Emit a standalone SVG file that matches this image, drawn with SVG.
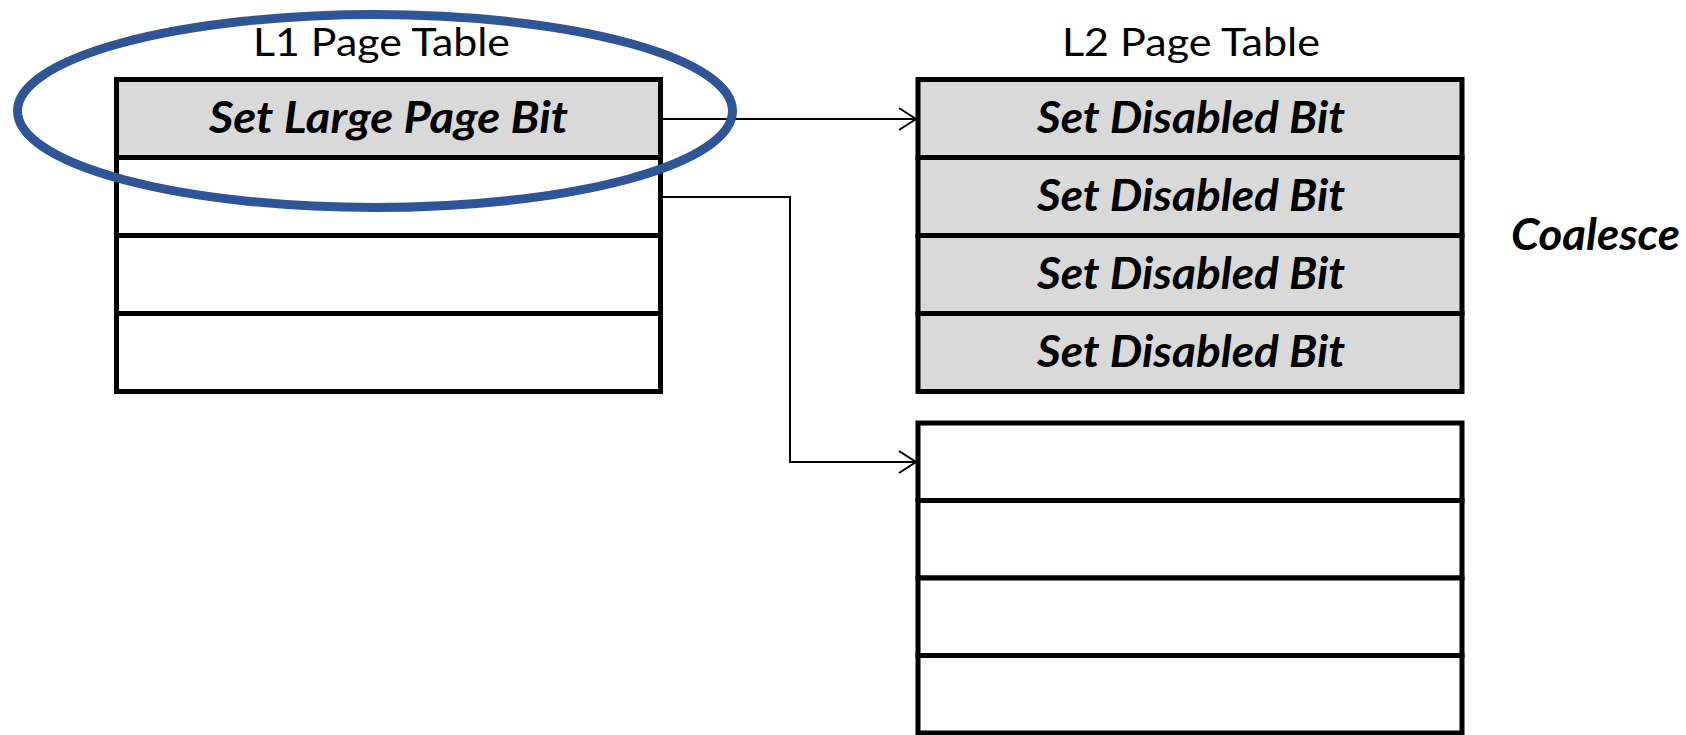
<svg xmlns="http://www.w3.org/2000/svg" width="1686" height="735" viewBox="0 0 1686 735">
  <defs>
    <style>
      .cell { stroke: #000; stroke-width: 5; }
      .gray { fill: #D9D9D9; }
      .white { fill: #FFFFFF; }
      .title { font-family: Lato, "Open Sans", "Liberation Sans", sans-serif; font-size: 38px; fill: #000; }
      .entry { font-family: Lato, "Open Sans", "Liberation Sans", sans-serif; font-size: 44px; font-weight: bold; font-style: italic; fill: #000; }
      .conn { fill: none; stroke: #000; stroke-width: 2; }
    </style>
    <marker id="open-arrow" markerUnits="userSpaceOnUse" markerWidth="24" markerHeight="26" refX="18" refY="12" orient="auto">
      <path d="M1,1 L18,12 L1,23" fill="none" stroke="#000" stroke-width="2"/>
    </marker>
  </defs>
  <rect width="1686" height="735" fill="#FFFFFF"/>

  <g id="l1-title">
    <text class="title" x="253" y="56" textLength="257" lengthAdjust="spacingAndGlyphs">L1 Page Table</text>
  </g>
  <g id="l2-title">
    <text class="title" x="1062" y="56" textLength="258" lengthAdjust="spacingAndGlyphs">L2 Page Table</text>
  </g>

  <g id="l1-table">
    <rect class="cell gray" x="116.5" y="79.5" width="544" height="78"/>
    <rect class="cell white" x="116.5" y="157.5" width="544" height="78"/>
    <rect class="cell white" x="116.5" y="235.5" width="544" height="78"/>
    <rect class="cell white" x="116.5" y="313.5" width="544" height="78"/>
    <text class="entry" x="209" y="133" textLength="359" lengthAdjust="spacingAndGlyphs">Set Large Page Bit</text>
  </g>

  <g id="l2-table-upper">
    <rect class="cell gray" x="918" y="79.5" width="544" height="78"/>
    <rect class="cell gray" x="918" y="157.5" width="544" height="78"/>
    <rect class="cell gray" x="918" y="235.5" width="544" height="78"/>
    <rect class="cell gray" x="918" y="313.5" width="544" height="78"/>
    <text class="entry" x="1037" y="133" textLength="308" lengthAdjust="spacingAndGlyphs">Set Disabled Bit</text>
    <text class="entry" x="1037" y="211" textLength="308" lengthAdjust="spacingAndGlyphs">Set Disabled Bit</text>
    <text class="entry" x="1037" y="289" textLength="308" lengthAdjust="spacingAndGlyphs">Set Disabled Bit</text>
    <text class="entry" x="1037" y="367" textLength="308" lengthAdjust="spacingAndGlyphs">Set Disabled Bit</text>
  </g>

  <g id="l2-table-lower">
    <rect class="cell white" x="918" y="423" width="544" height="77.5"/>
    <rect class="cell white" x="918" y="500.5" width="544" height="77.5"/>
    <rect class="cell white" x="918" y="578" width="544" height="77.5"/>
    <rect class="cell white" x="918" y="655.5" width="544" height="77.5"/>
  </g>

  <g id="coalesce-label">
    <text class="entry" x="1511" y="250" textLength="169" lengthAdjust="spacingAndGlyphs">Coalesce</text>
  </g>

  <g id="connectors">
    <path class="conn" d="M661,119 H916" marker-end="url(#open-arrow)"/>
    <path class="conn" d="M661,197 H790 V462 H916" marker-end="url(#open-arrow)"/>
  </g>

  <g id="highlight-ellipse">
    <ellipse cx="375" cy="111" rx="357.5" ry="96.5" fill="none" stroke="#2F5597" stroke-width="9"/>
  </g>
</svg>
